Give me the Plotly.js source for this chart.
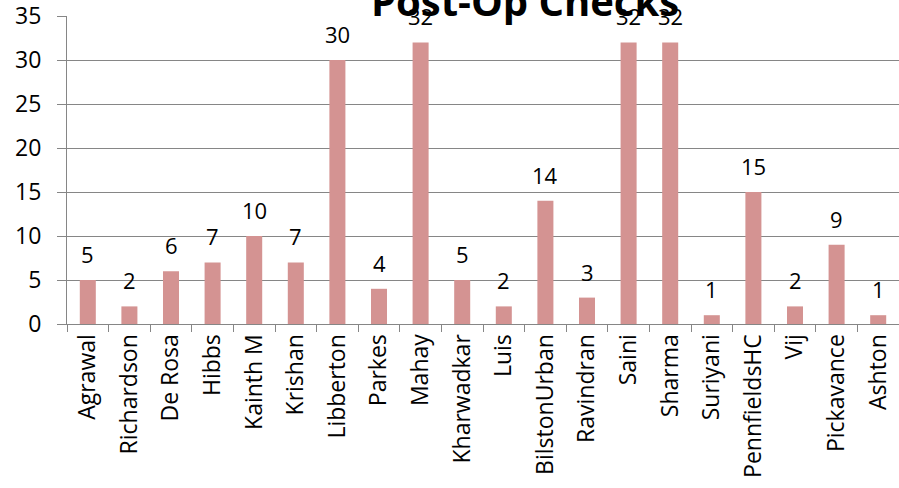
<!DOCTYPE html>
<html>
<head>
<meta charset="utf-8">
<script src="https://cdn.plot.ly/plotly-3.0.1.min.js"></script>
<style>html,body{margin:0;padding:0;background:#fff;}#chart{width:899px;height:488px;}</style>
</head>
<body>
<div id="chart"></div>
<script>
const categories = ["Agrawal","Richardson","De Rosa","Hibbs","Kainth M","Krishan","Libberton","Parkes","Mahay","Kharwadkar","Luis","BilstonUrban","Ravindran","Saini","Sharma","Suriyani","PennfieldsHC","Vij","Pickavance","Ashton"];
const values = [5,2,6,7,10,7,30,4,32,5,2,14,3,32,32,1,15,2,9,1];
const chartTitle = "Post-Op Checks";
const yTicks = [0,5,10,15,20,25,30,35];

const FONT = "'Open Sans', 'Noto Sans', sans-serif";

const trace = {
  type: 'bar',
  x: categories,
  y: values,
  marker: {color: '#D49392', line: {width: 0}},
  hoverinfo: 'x+y'
};

const annotations = categories.map((c, i) => ({
  x: c, y: values[i], xref: 'x', yref: 'y',
  text: String(values[i]), showarrow: false,
  yanchor: 'middle', yshift: 26,
  font: {family: FONT, size: 22, color: '#000'}
}));

const layout = {
  width: 899, height: 488,
  margin: {l: 67, r: 0, t: 16, b: 164, pad: 0},
  paper_bgcolor: '#fff', plot_bgcolor: '#fff',
  bargap: 0.615,
  showlegend: false,
  title: {
    text: '<b>' + chartTitle + '</b>',
    font: {family: FONT, size: 40, color: '#000'},
    x: 525/899, xanchor: 'center', xref: 'container',
    y: 0.995, yanchor: 'middle', yref: 'container'
  },
  xaxis: {
    type: 'category',
    tickangle: -90,
    tickson: 'boundaries',
    ticks: 'outside', ticklen: 7, tickcolor: '#868686', tickwidth: 1,
    showline: true, linecolor: '#868686', linewidth: 1,
    showgrid: false,
    tickfont: {family: FONT, size: 23, color: '#000'},
    ticklabeloverflow: 'allow',
    automargin: false
  },
  yaxis: {
    range: [0, 35],
    tickvals: yTicks,
    ticks: 'outside', ticklen: 9, tickcolor: '#868686', tickwidth: 1,
    showline: true, linecolor: '#868686', linewidth: 1,
    showgrid: true, gridcolor: '#868686', gridwidth: 1,
    zeroline: false,
    tickfont: {family: FONT, size: 23, color: '#000'},
    ticklabelstandoff: 11,
    ticklabeloverflow: 'allow',
    automargin: false
  },
  annotations: annotations
};

Plotly.newPlot('chart', [trace], layout, {displayModeBar: false, staticPlot: true});
</script>
</body>
</html>
